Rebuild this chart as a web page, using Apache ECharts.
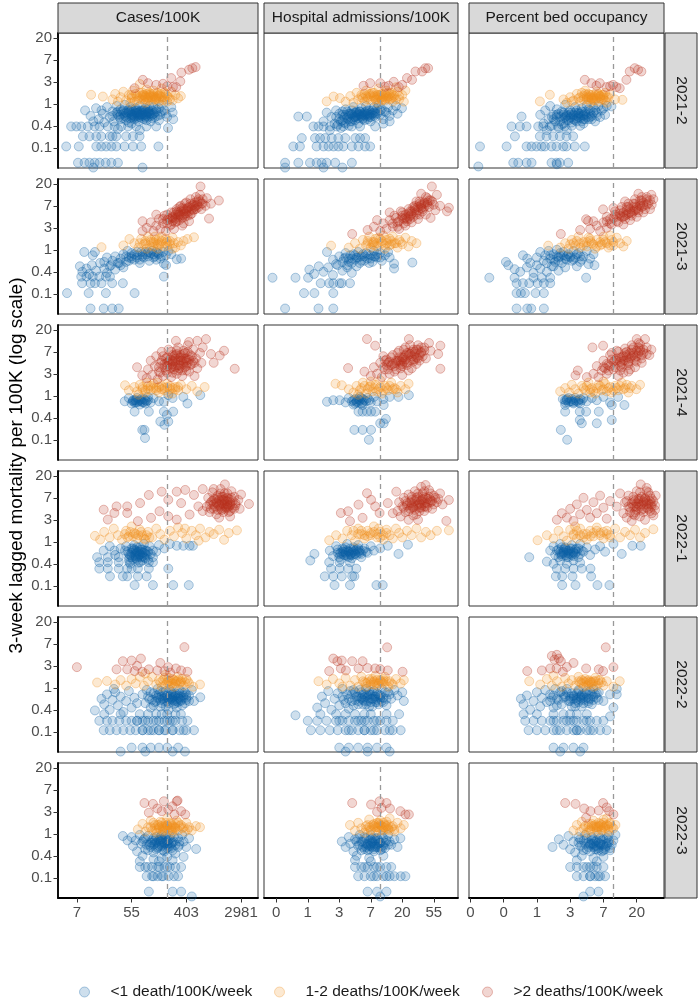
<!DOCTYPE html>
<html><head><meta charset="utf-8">
<script src="https://cdn.jsdelivr.net/npm/echarts@6/dist/echarts.min.js"></script>
<style>html,body{margin:0;padding:0;background:#fff}#c{width:698px;height:999px}</style>
</head><body><div id="c"></div>
<script>
// ---- labels ----
const categories = ['<1 death/100K/week', '1-2 deaths/100K/week', '>2 deaths/100K/week'];
const measures = ['Cases/100K', 'Hospital admissions/100K', 'Percent bed occupancy'];
const periods = ['2021-2', '2021-3', '2021-4', '2022-1', '2022-2', '2022-3'];
// axis ticks are natural-log positions; labels are the back-transformed values
const xTickValues = [[2, 4, 6, 8], [-1, 0, 1, 2, 3, 4], [-2, -1, 0, 1, 2, 3]];
const xTickLabels = [['7', '55', '403', '2981'], ['0', '1', '3', '7', '20', '55'], ['0', '0', '1', '3', '7', '20']];
const yTickValues = [-2, -1, 0, 1, 2, 3];
const yTickLabels = ['0.1', '0.4', '1', '3', '7', '20'];
const thresholdsRaw = [200, 10, 10];   // dashed reference lines (raw units)
const xRanges = [[1.31, 8.62], [-1.39, 4.77], [-2.04, 3.82]];
const yRange = [-2.92, 3.22];

// ---- data: flat [ln(x), ln(y), ...] pairs ----
const cases_2021_2_lo = [1.61,-1.94,2.07,-1.94,2.71,-1.94,2.89,-1.94,3.07,-1.94,3.26,-1.94,3.44,-1.94,3.74,-1.94,4.05,-1.94,4.35,-1.94,4.98,-1.94,
2.04,-2.68,2.28,-2.68,2.46,-2.68,2.65,-2.68,2.83,-2.68,3.05,-2.68,3.26,-2.68,3.5,-2.68,2.6,-2.9,4.4,-2.9,
2.22,-1.48,2.46,-1.48,2.71,-1.48,2.89,-1.48,3.2,-1.48,3.44,-1.48,3.8,-1.48,4.05,-1.48,4.29,-1.48,3.3,-1.48,
1.79,-1.03,1.98,-1.03,2.16,-1.03,2.4,-1.03,2.65,-1.03,2.83,-1.03,3.13,-1.03,3.38,-1.03,3.62,-1.03,3.87,-1.03,4.17,-1.03,4.54,-1.03,4.9,-1.03,5.33,-1.1,3.5,-1.15,4.3,-1.2,
2.3,-0.3,2.5,-0.55,2.7,-0.2,2.8,-0.7,2.95,-0.45,3.0,-0.85,3.1,-0.15,3.2,-0.6,3.3,-0.35,3.35,-0.8,3.45,-0.1,3.5,-0.5,3.6,-0.25,3.6,-0.7,3.7,-0.45,3.75,-0.05,3.8,-0.6,3.85,-0.3,3.9,-0.85,3.95,-0.15,4.0,-0.5,4.05,-0.35,4.1,-0.7,4.15,-0.2,4.2,-0.55,4.25,-0.4,4.3,-0.1,4.35,-0.65,4.4,-0.3,4.45,-0.5,4.5,-0.2,4.55,-0.75,4.6,-0.4,4.65,-0.1,4.7,-0.55,4.75,-0.3,4.8,-0.15,4.85,-0.6,4.9,-0.35,5.0,-0.2,5.05,-0.5,5.1,-0.05,5.2,-0.3,5.3,-0.6,5.45,-0.15,5.5,-0.4,5.52,-0.7,3.9,-0.4,4.1,-0.45,4.3,-0.35,4.0,-0.25,4.2,-0.3,3.7,-0.3,4.4,-0.45,4.6,-0.25,3.5,-0.35,3.8,-0.75,4.0,-0.9,4.25,-0.8,4.5,-0.6,4.7,-0.8,3.3,-0.55,3.6,-0.5,4.8,-0.45,5.0,-0.75,2.9,-0.3,2.6,-0.8,
3.45,-0.4,3.55,-0.6,3.65,-0.35,3.75,-0.55,3.85,-0.45,3.95,-0.65,4.05,-0.5,4.15,-0.4,4.25,-0.6,4.35,-0.3,4.45,-0.7,4.55,-0.45,4.65,-0.35,4.75,-0.65,4.85,-0.4,4.95,-0.55,3.7,-0.65,3.9,-0.3,4.1,-0.6,4.3,-0.5,4.5,-0.35,4.7,-0.45,4.9,-0.25,4.2,-0.45,4.0,-0.6,4.4,-0.55,3.8,-0.4,4.6,-0.6,5.1,-0.35,5.25,-0.45,
4.0,-0.45,4.1,-0.55,4.2,-0.4,4.3,-0.6,4.4,-0.4,4.5,-0.5,4.6,-0.35,4.15,-0.3,4.35,-0.5,4.55,-0.55,3.95,-0.35,4.25,-0.5,4.45,-0.3,4.65,-0.45,4.05,-0.65,4.75,-0.5];
const cases_2021_2_mid = [2.52,0.41,2.95,0.33,3.3,0.2,3.4,0.45,3.5,0.1,3.6,0.3,3.7,0.55,3.8,0.15,3.9,0.4,4.0,0.25,4.05,0.6,4.1,0.1,4.2,0.35,4.3,0.9,4.3,0.5,4.35,0.2,4.45,0.4,4.5,0.05,4.55,0.65,4.6,0.3,4.7,0.45,4.75,0.15,4.8,0.6,4.85,0.3,4.95,0.5,5.0,0.1,5.05,0.35,5.1,0.7,5.2,0.2,5.25,0.45,5.35,0.3,5.45,0.55,5.5,0.15,5.6,0.4,5.7,0.25,5.8,0.35,4.0,0.4,4.4,0.3,4.9,0.25,4.65,0.5,4.2,0.15,5.3,0.1,3.95,0.05,
4.0,0.3,4.15,0.45,4.25,0.25,4.4,0.5,4.5,0.3,4.6,0.15,4.7,0.35,4.8,0.45,4.9,0.2,5.0,0.4,5.1,0.3,5.2,0.5,5.3,0.35,5.4,0.2,4.35,0.35,4.55,0.45,4.75,0.3,4.95,0.35,5.15,0.15,4.45,0.2,
4.5,0.35,4.6,0.25,4.7,0.3,4.8,0.35,4.9,0.3,5.0,0.25,4.65,0.4,4.85,0.2,5.05,0.45,4.4,0.4,5.2,0.3,4.55,0.2];
const cases_2021_2_hi = [4.41,1.09,4.6,0.94,4.9,0.86,5.15,0.91,5.45,1.17,5.51,0.76,5.63,0.76,5.78,1.02,5.82,1.42,6.1,1.55,6.22,1.62,6.34,1.67,4.11,0.71,5.3,0.8];

const hosp_2021_2_lo = [-0.72,-2.68,-0.3,-2.68,0.07,-2.68,0.28,-2.68,0.44,-2.68,0.6,-2.68,0.87,-2.68,1.4,-2.68,-0.72,-2.9,0.5,-2.9,1.1,-2.9,
-0.46,-1.94,-0.25,-1.94,0.28,-1.94,0.5,-1.94,0.66,-1.94,0.82,-1.94,0.97,-1.94,1.13,-1.94,1.4,-1.94,1.61,-1.94,1.82,-1.94,1.98,-1.94,
-0.19,-1.56,0.23,-1.56,0.39,-1.56,0.55,-1.56,0.76,-1.56,0.97,-1.56,1.19,-1.56,1.51,-1.56,1.66,-1.56,1.82,-1.56,
0.18,-1.03,0.34,-1.03,0.5,-1.03,0.71,-1.03,0.92,-1.03,1.13,-1.03,1.4,-1.03,1.66,-1.03,2.14,-1.03,-0.3,-0.58,-0.03,-0.58,
0.5,-0.8,0.6,-0.4,0.7,-1.2,0.75,-0.6,0.85,-0.9,0.9,-0.3,1.0,-0.7,1.05,-1.1,1.1,-0.5,1.15,-0.85,1.2,-0.25,1.25,-0.65,1.3,-1.0,1.35,-0.45,1.4,-0.8,1.45,-0.15,1.5,-0.6,1.55,-0.35,1.6,-0.9,1.65,-0.5,1.7,-0.2,1.75,-0.7,1.8,-0.4,1.85,-0.1,1.9,-0.55,1.95,-0.3,2.0,-0.8,2.05,-0.45,2.1,-0.15,2.15,-0.6,2.2,-0.35,2.25,-0.05,2.3,-0.5,2.35,-0.25,2.4,-0.7,2.5,-0.4,2.55,-0.15,2.6,-0.55,2.7,-0.3,2.8,-0.1,2.85,-0.45,2.99,-0.2,1.3,-0.55,1.5,-0.4,1.7,-0.45,1.9,-0.3,1.2,-0.9,1.6,-0.65,2.0,-0.6,1.4,-0.3,1.8,-0.75,2.2,-0.2,1.1,-0.35,0.95,-0.95,2.4,-0.9,2.6,-0.8,
0.9,-0.6,1.0,-0.45,1.1,-0.75,1.2,-0.5,1.3,-0.7,1.4,-0.45,1.5,-0.75,1.6,-0.5,1.7,-0.6,1.8,-0.55,1.9,-0.7,2.0,-0.4,2.1,-0.55,2.2,-0.45,2.3,-0.3,1.25,-0.35,1.45,-0.6,1.65,-0.35,1.85,-0.45,2.05,-0.3,1.35,-0.8,1.55,-0.55,1.75,-0.5,1.95,-0.5,1.15,-0.6,2.15,-0.45,2.45,-0.35,1.05,-0.8,
1.4,-0.5,1.5,-0.6,1.6,-0.45,1.7,-0.55,1.8,-0.5,1.9,-0.45,2.0,-0.5,1.55,-0.4,1.75,-0.65,1.95,-0.6,1.65,-0.35,1.85,-0.35,1.45,-0.7,2.1,-0.4,1.3,-0.45];
const hosp_2021_2_mid = [0.6,0.11,0.82,0.33,1.02,0.26,1.2,0.1,1.35,0.35,1.45,0.05,1.55,0.5,1.6,0.2,1.7,0.4,1.8,0.1,1.85,0.6,1.9,0.3,2.0,0.15,2.05,0.5,2.1,0.35,2.2,0.05,2.25,0.7,2.3,0.25,2.35,0.45,2.45,0.15,2.5,0.6,2.55,0.3,2.65,0.5,2.7,0.1,2.75,0.35,2.85,0.55,2.9,0.2,3.0,0.4,3.05,0.1,1.95,0.45,2.4,0.35,2.6,0.2,2.15,0.2,1.75,0.25,2.8,0.75,3.1,0.6,
1.7,0.3,1.8,0.45,1.9,0.2,2.0,0.35,2.1,0.5,2.2,0.3,2.3,0.4,2.4,0.2,2.5,0.35,2.6,0.45,2.7,0.3,2.8,0.2,2.9,0.35,2.0,0.45,2.35,0.15,2.55,0.5,2.25,0.4,1.85,0.35,
2.1,0.3,2.2,0.4,2.3,0.3,2.4,0.3,2.5,0.25,2.6,0.35,2.7,0.4,2.2,0.2,2.45,0.45,2.35,0.2,2.65,0.25];
const hosp_2021_2_hi = [1.77,0.82,1.98,0.94,2.3,0.94,2.57,0.82,2.73,1.0,2.89,0.76,3.0,0.86,3.15,1.17,3.31,1.09,3.42,1.47,3.63,1.47,3.73,1.62,3.82,1.62,2.45,0.78];

const beds_2021_2_lo = [-0.71,-2.68,-0.56,-2.68,-0.31,-2.68,-0.16,-2.68,0.44,-2.68,0.59,-2.68,0.69,-2.68,0.94,-2.68,0.6,-2.75,-1.76,-2.85,
-1.71,-1.94,-0.91,-1.94,-0.31,-1.94,-0.16,-1.94,-0.01,-1.94,0.14,-1.94,0.24,-1.94,0.44,-1.94,0.59,-1.94,0.79,-1.94,0.89,-1.94,1.14,-1.94,1.44,-1.94,
-0.66,-1.48,0.09,-1.48,0.29,-1.48,0.49,-1.48,0.69,-1.48,0.89,-1.48,1.09,-1.48,
-0.76,-1.03,-0.51,-1.03,-0.31,-1.03,0.04,-1.03,0.19,-1.03,0.39,-1.03,0.64,-1.03,0.84,-1.03,-0.46,-0.58,
0.1,-0.5,0.2,-0.9,0.25,-0.3,0.3,-1.2,0.35,-0.7,0.4,-0.1,0.45,-1.0,0.5,-0.5,0.55,-0.8,0.6,-0.25,0.65,-1.1,0.7,-0.6,0.75,-0.35,0.8,-0.9,0.85,-0.05,0.9,-0.5,0.95,-0.75,1.0,-0.3,1.05,-1.0,1.1,-0.55,1.15,-0.15,1.2,-0.8,1.25,-0.4,1.3,-0.65,1.35,-0.2,1.4,-0.9,1.45,-0.45,1.5,-0.05,1.55,-0.7,1.6,-0.3,1.65,-0.55,1.7,-0.15,1.75,-0.8,1.8,-0.4,1.85,-0.1,1.9,-0.6,1.95,-0.3,2.0,-0.2,2.05,-0.5,2.1,-0.1,2.24,-0.12,0.9,-1.2,0.6,-0.5,1.0,-0.65,1.2,-0.3,1.4,-0.55,0.8,-0.4,1.3,-1.0,0.45,-0.6,
0.5,-0.7,0.6,-0.6,0.7,-0.8,0.8,-0.65,0.9,-0.75,1.0,-0.5,1.1,-0.7,1.2,-0.55,1.3,-0.45,1.4,-0.7,1.5,-0.5,1.6,-0.6,1.7,-0.4,1.8,-0.55,0.65,-0.45,0.85,-0.6,1.05,-0.85,1.25,-0.6,1.45,-0.35,1.65,-0.7,0.95,-0.4,1.15,-0.4,1.35,-0.8,1.55,-0.25,0.75,-0.95,1.75,-0.3,
0.9,-0.55,1.0,-0.6,1.1,-0.5,1.2,-0.65,1.3,-0.55,1.4,-0.5,1.5,-0.6,1.05,-0.4,1.25,-0.45,1.45,-0.7,1.15,-0.75,1.35,-0.35,1.6,-0.45,0.8,-0.5];
const beds_2021_2_mid = [0.09,0.11,0.39,0.41,0.8,0.2,0.9,0.05,1.0,0.3,1.1,0.15,1.2,0.45,1.3,0.1,1.4,0.35,1.45,0.6,1.5,0.2,1.6,0.05,1.65,0.4,1.7,0.25,1.8,0.55,1.85,0.1,1.9,0.35,2.0,0.2,2.05,0.5,2.1,0.05,2.15,0.3,1.25,0.25,1.55,0.45,1.75,0.15,1.95,0.4,1.35,0.5,2.2,0.45,2.57,0.18,2.35,0.2,1.05,0.1,
1.3,0.3,1.4,0.2,1.5,0.4,1.6,0.3,1.7,0.15,1.8,0.35,1.9,0.25,2.0,0.4,2.1,0.3,1.45,0.45,1.65,0.25,1.85,0.45,2.05,0.15,1.55,0.3,1.75,0.4,
1.5,0.3,1.6,0.4,1.7,0.3,1.8,0.25,1.9,0.35,2.0,0.3,1.65,0.2,1.85,0.4,1.55,0.2,1.95,0.2];
const beds_2021_2_hi = [1.44,1.09,1.64,0.94,1.79,0.82,1.89,0.94,2.09,0.76,2.29,0.86,2.39,0.76,2.49,0.71,2.69,1.09,2.79,1.47,2.94,1.62,3.04,1.55,3.14,1.47,2.2,0.8];

const cases_2021_3_lo = [2.5,-2.67,2.98,-2.67,3.29,-2.67,3.53,-2.67,1.64,-1.97,2.43,-1.97,3.06,-1.97,4.11,-1.97,
2.19,-1.52,2.5,-1.52,2.66,-1.52,2.9,-1.52,3.29,-1.52,3.68,-1.52,2.16,-1.22,2.35,-1.22,2.58,-1.22,2.82,-1.22,3.06,-1.22,3.21,-1.22,5.18,-1.22,
2.11,-0.75,2.2,-1.0,2.35,-0.85,2.45,-1.1,2.55,-0.7,2.7,-0.95,2.85,-0.6,3.0,-0.85,3.1,-1.05,3.25,-0.7,3.4,-0.9,3.55,-0.6,3.7,-0.8,
2.27,-0.1,2.66,-0.1,2.58,-0.25,5.18,-0.63,5.26,-0.7,5.65,-0.43,5.81,-0.4,
3.0,-0.55,3.1,-0.35,3.2,-0.75,3.3,-0.5,3.4,-0.3,3.5,-0.6,3.6,-0.4,3.7,-0.2,3.8,-0.55,3.9,-0.35,4.0,-0.15,4.1,-0.45,4.2,-0.25,4.3,-0.6,4.35,-0.1,4.45,-0.35,4.55,-0.2,4.65,-0.5,4.75,-0.05,4.85,-0.3,4.95,-0.15,5.05,-0.4,5.15,-0.1,5.25,-0.25,5.35,-0.05,4.0,-0.4,4.4,-0.3,4.6,-0.1,4.8,-0.2,3.6,-0.7,4.2,-0.1,4.9,-0.45,3.85,-0.05,5.45,-0.2,
3.8,-0.3,4.0,-0.3,4.2,-0.35,4.4,-0.2,4.6,-0.3,4.8,-0.35,5.0,-0.2,4.3,-0.45,4.5,-0.1,4.1,-0.2,4.7,-0.15,3.9,-0.5,4.9,-0.1,5.1,-0.3];
const cases_2021_3_mid = [2.9,0.12,3.92,0.49,6.04,0.49,6.28,0.57,3.7,0.2,4.1,0.3,4.25,0.1,4.35,0.5,4.45,0.25,4.55,0.05,4.6,0.6,4.7,0.35,4.8,0.15,4.9,0.45,4.95,0.05,5.05,0.3,5.1,0.6,5.2,0.15,5.3,0.4,5.4,0.25,5.5,0.55,5.6,0.1,5.7,0.35,5.8,0.2,4.5,0.4,5.0,0.2,4.85,0.6,5.25,0.5,5.5,0.05,4.3,0.3,5.9,0.4,
4.5,0.3,4.65,0.2,4.8,0.35,4.95,0.25,5.1,0.4,5.25,0.3,5.4,0.4,5.55,0.3,4.7,0.45,5.0,0.5,5.3,0.2,4.85,0.3];
const cases_2021_3_hi = [4.55,1.0,4.7,1.25,4.8,0.85,4.9,1.1,5.0,1.4,5.05,0.95,5.15,1.2,5.2,1.55,5.25,0.85,5.3,1.35,5.4,1.1,5.45,1.7,5.5,1.45,5.55,0.95,5.6,1.25,5.65,1.85,5.7,1.6,5.75,1.35,5.8,2.0,5.85,1.1,5.9,1.75,5.95,1.5,6.0,2.15,6.05,1.9,6.1,1.3,6.15,2.3,6.2,1.65,6.25,2.05,6.3,1.85,6.35,2.4,6.4,2.2,6.45,1.95,6.5,2.5,6.55,2.1,6.6,2.3,6.7,2.0,6.75,2.35,6.83,1.42,7.19,2.24,6.52,2.88,6.9,2.1,5.6,1.45,5.9,1.2,6.0,1.65,5.3,1.6,4.9,1.6,4.4,0.85,4.4,1.3,
5.3,1.2,5.4,1.4,5.5,1.3,5.6,1.6,5.7,1.5,5.8,1.75,5.9,1.6,6.0,1.85,6.1,1.75,6.2,2.0,6.3,1.95,6.4,2.05,6.5,2.2,6.6,2.1,5.45,1.15,5.65,1.3,5.85,1.45,6.05,1.55,6.25,1.8,6.45,2.3,5.75,1.95,5.95,2.1,6.15,1.6,6.35,1.85,5.55,1.7,6.55,1.85,5.35,1.45,5.15,1.4,
5.5,1.5,5.6,1.4,5.7,1.7,5.8,1.55,5.9,1.85,6.0,1.75,6.1,1.95,6.2,1.85,6.3,2.15,5.75,1.6,5.95,1.65,6.15,2.1,6.35,2.0,5.65,1.75,5.85,1.9];

const hosp_2021_3_lo = [-0.72,-2.67,0.34,-2.67,0.81,-2.67,-0.12,-1.97,0.21,-1.97,0.81,-1.97,
0.41,-1.52,0.68,-1.52,0.81,-1.52,1.01,-1.52,1.08,-1.52,1.34,-1.52,-1.12,-1.27,-0.39,-1.27,0.01,-1.27,
0.05,-0.9,0.2,-1.1,0.35,-0.75,0.5,-1.0,0.65,-0.8,0.8,-1.15,0.95,-0.7,1.1,-0.95,1.25,-0.8,1.4,-1.05,1.55,-0.75,
0.61,-0.1,2.74,-0.63,2.74,-0.85,3.32,-0.58,
0.8,-0.45,0.9,-0.65,1.0,-0.3,1.1,-0.55,1.2,-0.15,1.25,-0.7,1.3,-0.4,1.4,-0.6,1.45,-0.2,1.5,-0.45,1.6,-0.1,1.65,-0.6,1.7,-0.3,1.8,-0.5,1.85,-0.15,1.9,-0.4,2.0,-0.25,2.05,-0.55,2.1,-0.05,2.2,-0.35,2.3,-0.15,2.35,-0.5,2.45,-0.25,2.55,-0.1,1.55,-0.35,1.75,-0.2,1.35,-0.25,1.95,-0.6,2.15,-0.3,1.15,-0.4,2.6,-0.35,
1.2,-0.35,1.4,-0.4,1.6,-0.35,1.8,-0.3,2.0,-0.4,2.2,-0.2,1.5,-0.25,1.7,-0.5,1.9,-0.2,2.1,-0.3,1.3,-0.55,2.3,-0.35];
const hosp_2021_3_mid = [0.74,0.19,1.3,0.1,1.5,0.3,1.65,0.05,1.75,0.45,1.85,0.2,1.95,0.6,2.0,0.1,2.1,0.35,2.2,0.15,2.25,0.55,2.35,0.3,2.45,0.05,2.5,0.45,2.6,0.2,2.7,0.6,2.75,0.3,2.85,0.1,2.9,0.45,3.0,0.25,3.1,0.55,3.2,0.15,3.3,0.4,2.4,0.65,2.15,0.5,2.65,0.4,2.05,0.25,3.45,0.3,1.9,0.4,
1.9,0.3,2.05,0.35,2.2,0.3,2.35,0.4,2.5,0.3,2.65,0.25,2.8,0.3,2.95,0.35,2.1,0.2,2.45,0.2,2.3,0.5,2.6,0.5];
const hosp_2021_3_hi = [1.41,0.72,1.9,0.9,2.1,1.05,2.3,0.85,2.4,1.2,2.5,0.95,2.6,1.35,2.7,1.05,2.75,1.55,2.85,1.25,2.9,0.95,3.0,1.7,3.05,1.4,3.1,1.1,3.2,1.85,3.25,1.55,3.3,1.25,3.4,2.0,3.45,1.7,3.5,1.4,3.55,2.2,3.6,1.9,3.7,2.1,3.75,1.6,3.8,2.35,3.85,1.95,3.94,2.88,3.95,2.2,4.05,1.8,4.1,2.5,4.2,2.0,4.48,1.91,4.42,1.75,3.6,2.55,2.6,1.7,2.2,1.35,3.9,1.45,3.35,1.5,
2.7,1.2,2.8,1.45,2.9,1.3,3.0,1.55,3.1,1.45,3.2,1.65,3.3,1.75,3.4,1.8,3.5,1.95,3.6,2.05,3.7,1.95,3.8,2.15,3.9,2.25,4.0,2.05,2.95,1.75,3.15,1.3,3.35,1.95,3.55,1.6,3.75,2.4,3.45,2.2,3.25,1.4,3.65,1.75,2.85,1.05,3.05,1.2,
3.0,1.45,3.1,1.6,3.2,1.5,3.3,1.65,3.4,1.9,3.5,1.8,3.6,2.0,3.7,2.15,3.8,2.05,3.25,1.75,3.45,1.6,3.65,1.85,3.85,2.25,3.15,1.4,3.55,2.1];

const beds_2021_3_lo = [-0.61,-2.67,-0.29,-2.67,-0.17,-2.67,0.21,-2.67,-0.61,-1.97,-0.48,-1.97,-0.36,-1.97,-0.04,-1.97,0.21,-1.97,
-0.61,-1.52,-0.42,-1.52,-0.23,-1.52,0.02,-1.52,0.21,-1.52,0.4,-1.52,-1.43,-1.27,-0.67,-1.27,-0.1,-1.27,0.15,-1.27,0.4,-1.27,1.48,-1.27,
-0.93,-0.55,-0.86,-0.7,-0.67,-0.88,-0.42,-0.25,-0.29,-0.4,
-0.5,-1.0,-0.3,-0.8,-0.1,-1.05,0.1,-0.85,0.3,-1.0,0.5,-0.75,0.65,-0.95,-0.2,-0.6,0.0,-0.7,
0.0,-0.35,0.1,-0.1,0.2,-0.5,0.25,-0.25,0.35,-0.05,0.4,-0.4,0.5,-0.2,0.55,-0.55,0.6,0.0,0.7,-0.3,0.75,-0.6,0.8,-0.1,0.9,-0.45,0.95,-0.2,1.05,-0.5,1.1,-0.05,1.15,-0.35,1.25,-0.15,1.3,-0.55,1.4,-0.3,1.5,-0.05,1.6,-0.4,1.7,-0.2,0.45,-0.75,0.85,-0.8,1.2,-0.75,0.3,-0.6,0.65,-0.35,1.0,-0.3,1.35,-0.45,1.55,-0.65,1.73,-0.7,
0.4,-0.25,0.6,-0.3,0.8,-0.25,1.0,-0.35,1.2,-0.2,0.5,-0.45,0.7,-0.15,0.9,-0.3,1.1,-0.45,1.3,-0.3,0.65,-0.5,0.85,-0.4];
const beds_2021_3_mid = [0.34,0.19,0.7,0.1,0.85,0.3,0.95,0.05,1.05,0.45,1.15,0.2,1.25,0.6,1.3,0.1,1.4,0.35,1.5,0.15,1.55,0.55,1.65,0.3,1.75,0.05,1.8,0.45,1.9,0.2,2.0,0.6,2.05,0.35,2.15,0.1,2.25,0.45,2.3,0.2,2.4,0.55,2.5,0.3,2.6,0.15,1.2,0.4,1.6,0.4,1.95,0.25,2.2,0.65,1.0,0.25,2.7,0.4,
1.1,0.3,1.3,0.3,1.5,0.35,1.7,0.25,1.9,0.35,2.1,0.3,2.3,0.35,1.4,0.2,1.8,0.15,2.0,0.45,1.6,0.5,2.2,0.2];
const beds_2021_3_hi = [0.72,0.72,1.48,1.39,1.54,1.31,1.99,1.84,1.3,0.9,1.6,0.95,1.8,1.1,1.9,0.85,2.0,1.25,2.1,1.0,2.2,1.4,2.25,1.15,2.35,1.6,2.4,1.3,2.5,1.8,2.55,1.5,2.6,1.15,2.7,1.95,2.75,1.65,2.8,1.35,2.9,2.1,2.95,1.8,3.0,1.5,3.1,2.25,3.15,1.95,3.2,1.7,3.3,2.4,3.35,2.1,3.4,1.85,3.44,2.5,3.5,2.3,3.45,2.05,2.65,2.2,2.3,1.9,3.05,2.55,2.1,1.5,1.7,1.3,
2.1,1.3,2.2,1.2,2.3,1.45,2.4,1.5,2.5,1.55,2.6,1.7,2.7,1.6,2.8,1.85,2.9,1.75,3.0,1.95,3.1,2.0,3.2,2.15,3.3,2.05,3.4,2.25,2.45,1.25,2.65,1.4,2.85,1.55,3.05,1.7,3.25,1.85,2.55,1.95,2.75,2.1,2.95,2.3,3.15,2.4,2.35,1.75,
2.5,1.65,2.6,1.5,2.7,1.8,2.8,1.7,2.9,1.95,3.0,1.85,3.1,2.1,3.2,2.0,3.3,2.3,2.75,1.95,2.95,2.1,3.15,2.25,2.65,1.55,2.85,1.65,3.05,1.8];

const cases_2021_4_lo = [4.39,-1.55,4.47,-1.55,4.49,-1.92,5.05,-1.17,5.34,-1.17,5.2,-1.32,4.11,-0.72,4.63,-0.72,5.18,-0.72,5.52,-0.72,5.29,-0.87,5.18,-0.27,
3.75,-0.25,3.9,-0.1,4.0,-0.35,4.05,-0.2,4.15,-0.3,4.2,-0.1,4.3,-0.4,4.35,-0.25,4.45,-0.15,4.5,-0.35,4.6,-0.2,4.7,-0.3,4.8,-0.1,4.2,-0.3,4.4,-0.3,4.1,-0.2,4.6,-0.05,5.34,0.03,5.89,-0.05,6.51,0.03,6.04,-0.35,5.0,-0.25,5.5,-0.1,
4.05,-0.25,4.15,-0.2,4.25,-0.25,4.35,-0.15,4.45,-0.3,4.55,-0.25,4.1,-0.3,4.3,-0.2,4.5,-0.2];
const cases_2021_4_mid = [3.76,0.48,6.67,0.4,3.9,0.25,4.1,0.4,4.2,0.2,4.3,0.5,4.4,0.3,4.5,0.15,4.6,0.45,4.7,0.25,4.8,0.55,4.9,0.35,5.0,0.15,5.1,0.45,5.2,0.25,5.3,0.55,5.4,0.3,5.5,0.1,5.6,0.4,5.7,0.25,5.8,0.5,6.0,0.3,6.2,0.45,4.55,0.6,4.95,0.6,5.35,0.1,4.25,0.05,6.4,0.2,
4.4,0.4,4.6,0.3,4.8,0.35,5.0,0.4,5.2,0.35,5.4,0.45,5.6,0.3,4.5,0.25,4.7,0.45,4.9,0.25,5.1,0.3,5.3,0.4,5.5,0.35,5.7,0.4];
const cases_2021_4_hi = [4.2,1.3,4.39,0.93,4.55,0.8,4.6,1.2,4.7,1.6,4.75,0.95,4.85,1.35,4.9,1.8,4.95,0.75,5.0,1.1,5.05,1.5,5.1,2.0,5.15,0.9,5.2,1.3,5.25,1.7,5.3,1.05,5.35,2.1,5.4,1.45,5.45,0.85,5.5,1.85,5.55,1.2,5.6,1.6,5.62,2.5,5.65,1.0,5.7,2.2,5.75,1.4,5.8,1.75,5.85,0.9,5.9,2.05,5.95,1.3,6.0,1.6,6.05,2.3,6.1,1.1,6.15,1.85,6.2,1.45,6.25,2.1,6.3,0.9,6.35,1.7,6.4,1.25,6.5,1.95,6.55,1.5,6.6,2.2,6.72,2.58,6.1,2.45,6.4,2.5,7.38,2.05,7.77,1.23,7.22,1.83,6.9,1.9,7.0,1.5,5.3,1.35,5.5,1.55,5.7,1.15,5.9,1.55,5.6,1.3,
5.0,1.3,5.1,1.6,5.2,1.45,5.3,1.75,5.4,1.25,5.5,1.6,5.6,1.85,5.7,1.4,5.8,1.6,5.9,1.9,6.0,1.35,6.1,1.65,6.2,1.8,6.3,1.5,5.35,1.55,5.55,1.35,5.75,1.75,5.95,1.7,6.15,1.4,5.25,1.15,5.45,2.0,5.65,2.05,5.85,1.15,6.05,2.0,5.15,1.8,6.25,1.6,5.05,1.05,5.5,1.05,5.8,1.35,6.0,1.15,
5.3,1.5,5.4,1.65,5.5,1.45,5.6,1.7,5.7,1.6,5.8,1.85,5.9,1.45,6.0,1.7,5.45,1.3,5.65,1.9,5.85,1.6,6.05,1.5,5.55,1.8,5.75,1.25,5.95,1.95];

const hosp_2021_4_lo = [1.48,-1.55,1.74,-1.55,2.01,-1.55,1.94,-2.0,2.3,-1.25,2.41,-1.25,2.48,-1.05,1.61,-0.72,1.74,-0.72,1.88,-0.72,2.01,-0.72,2.14,-0.72,1.74,-0.42,2.41,-0.42,
0.61,-0.27,0.81,-0.2,1.01,-0.2,1.2,-0.3,1.3,-0.1,1.4,-0.25,1.45,-0.4,1.5,-0.15,1.6,-0.3,1.65,-0.05,1.7,-0.35,1.8,-0.2,1.9,-0.1,2.0,-0.3,2.1,-0.05,2.2,-0.25,2.4,-0.15,2.6,-0.05,2.88,-0.05,3.21,0.03,1.55,-0.25,1.75,-0.15,
1.45,-0.2,1.55,-0.3,1.65,-0.2,1.75,-0.3,1.85,-0.25,1.95,-0.2,1.5,-0.35,1.7,-0.1,1.6,-0.15];
const hosp_2021_4_mid = [0.88,0.55,1.08,0.48,1.3,0.3,1.45,0.15,1.55,0.45,1.65,0.25,1.75,0.6,1.85,0.1,1.95,0.4,2.05,0.2,2.15,0.5,2.25,0.3,2.35,0.1,2.45,0.45,2.55,0.25,2.65,0.6,2.75,0.35,2.85,0.15,2.95,0.45,3.1,0.3,3.2,0.55,2.0,0.65,1.6,0.05,2.3,0.7,
1.7,0.35,1.9,0.3,2.1,0.35,2.3,0.4,2.5,0.35,2.7,0.3,1.8,0.45,2.0,0.45,2.2,0.2,2.4,0.25,2.6,0.45,2.8,0.3];
const hosp_2021_4_hi = [1.28,1.26,1.88,2.58,2.14,2.28,3.21,2.58,4.21,2.28,4.14,1.9,4.21,1.23,1.8,1.1,2.0,0.9,2.1,1.3,2.2,1.0,2.3,1.5,2.35,0.85,2.45,1.2,2.5,1.65,2.6,1.0,2.65,1.4,2.7,1.85,2.8,1.2,2.85,1.6,2.9,2.05,3.0,1.35,3.05,1.75,3.1,2.2,3.15,1.5,3.25,1.9,3.3,1.25,3.35,2.1,3.4,1.65,3.5,2.3,3.55,1.85,3.6,2.0,3.7,2.2,3.75,1.7,3.85,2.4,3.9,2.05,3.0,0.95,2.4,1.8,2.75,1.1,3.2,1.15,2.55,1.5,3.45,1.45,2.95,1.55,
2.4,1.3,2.5,1.4,2.6,1.55,2.7,1.45,2.8,1.6,2.9,1.75,3.0,1.65,3.1,1.85,3.2,1.95,3.3,1.8,3.4,2.0,3.5,2.1,3.6,2.2,3.7,2.05,2.55,1.2,2.75,1.35,2.95,1.25,3.15,1.4,3.35,1.55,3.55,1.6,2.65,1.75,2.85,1.95,3.05,2.1,3.25,2.3,3.45,1.75,3.65,1.8,2.45,1.6,3.0,1.45,
2.8,1.5,2.9,1.6,3.0,1.75,3.1,1.65,3.2,1.85,3.3,2.0,3.4,1.9,3.5,1.7,2.95,1.4,3.15,1.95,3.35,1.65,3.45,2.1,3.05,1.55,3.25,1.6,3.6,1.95];

const beds_2021_4_lo = [0.72,-1.55,0.91,-2.0,1.35,-1.25,1.8,-1.25,1.29,-1.1,2.25,-1.1,0.85,-0.72,1.29,-0.72,1.48,-0.72,1.86,-0.72,0.85,-0.42,2.25,-0.42,2.63,-0.42,
0.78,-0.15,0.85,-0.3,0.95,-0.1,1.0,-0.25,1.1,-0.35,1.15,-0.1,1.25,-0.2,1.3,-0.35,1.4,-0.1,1.5,-0.25,1.65,-0.1,1.8,-0.2,2.0,-0.05,2.2,-0.3,2.44,-0.05,0.9,-0.2,1.2,-0.25,1.05,-0.15,
0.85,-0.2,0.95,-0.3,1.05,-0.25,1.15,-0.2,1.25,-0.3,1.35,-0.2,0.9,-0.15,1.1,-0.3,1.3,-0.15];
const beds_2021_4_mid = [0.7,0.2,0.85,0.35,0.97,0.15,1.05,0.5,1.15,0.3,1.25,0.1,1.35,0.45,1.45,0.25,1.55,0.6,1.65,0.35,1.75,0.1,1.85,0.5,1.95,0.25,2.05,0.55,2.15,0.35,2.25,0.15,2.35,0.45,2.45,0.25,2.55,0.6,2.65,0.35,2.75,0.15,2.85,0.45,2.99,0.3,3.1,0.5,1.6,0.15,2.0,0.65,
1.4,0.35,1.6,0.3,1.8,0.35,2.0,0.3,2.2,0.4,2.4,0.35,2.6,0.3,2.8,0.35,1.5,0.45,1.7,0.2,1.9,0.45,2.1,0.2,2.3,0.25,2.5,0.45,2.7,0.5];
const beds_2021_4_hi = [1.23,1.15,1.16,0.93,1.67,2.2,1.99,2.28,3.0,2.58,3.25,2.58,3.44,2.1,3.38,1.85,1.5,0.85,1.7,1.0,1.8,1.35,1.85,0.85,1.95,1.15,2.0,1.6,2.1,1.0,2.15,1.4,2.2,1.85,2.3,1.2,2.35,1.6,2.4,2.05,2.5,1.35,2.55,1.75,2.6,1.05,2.7,2.0,2.75,1.5,2.8,1.2,2.85,1.8,2.9,2.2,3.0,1.55,3.05,1.95,3.1,2.35,3.15,1.7,3.2,2.1,3.3,1.9,2.45,0.9,2.25,1.65,2.65,1.6,2.95,1.3,2.05,1.25,
2.0,1.3,2.1,1.45,2.2,1.35,2.3,1.55,2.4,1.7,2.5,1.55,2.6,1.8,2.7,1.75,2.8,1.95,2.9,1.85,3.0,2.05,3.1,2.15,3.2,1.95,3.3,2.2,2.15,1.15,2.35,1.3,2.55,1.3,2.75,1.4,2.95,1.6,3.15,1.5,2.45,2.0,2.65,2.15,2.85,2.3,3.05,2.4,2.25,1.95,2.5,1.15,2.75,1.1,
2.4,1.6,2.5,1.75,2.6,1.6,2.7,1.85,2.8,1.7,2.9,1.95,3.0,1.8,3.1,2.05,2.55,1.45,2.75,1.55,2.95,1.75,3.15,1.85,2.65,1.95,2.85,2.1,3.05,2.2];

const cases_2022_1_lo = [4.11,-1.97,4.78,-1.97,5.52,-1.97,6.09,-1.97,3.21,-1.57,3.68,-1.57,3.84,-1.57,4.23,-1.57,4.55,-1.57,
2.82,-1.22,3.13,-1.22,3.53,-1.22,3.84,-1.22,4.0,-1.22,4.23,-1.22,4.63,-1.22,5.34,-1.22,
2.82,-0.93,3.13,-0.93,3.53,-0.93,3.92,-0.93,4.31,-0.93,4.63,-0.93,4.78,-0.93,2.74,-0.7,3.13,-0.7,3.53,-0.7,3.92,-0.7,4.23,-0.7,4.47,-0.7,4.78,-0.7,
2.98,-0.4,3.37,-0.4,3.76,-0.4,4.16,-0.4,4.55,-0.4,4.78,-0.4,5.65,-0.18,5.89,-0.18,6.12,-0.18,6.24,-0.18,
3.8,-0.2,3.9,-0.55,4.0,-0.3,4.05,-0.8,4.1,-0.15,4.2,-0.5,4.25,-0.95,4.3,-0.25,4.4,-0.65,4.45,-0.1,4.5,-0.4,4.6,-0.8,4.65,-0.2,4.7,-0.55,3.95,-1.0,4.35,-0.45,4.15,-0.65,3.6,-0.3,3.4,-0.6,3.2,-0.2,5.0,-0.15,5.2,-0.3,5.4,-0.1,4.9,-0.45,
3.85,-0.45,3.95,-0.6,4.05,-0.4,4.15,-0.55,4.25,-0.45,4.35,-0.7,4.45,-0.5,4.55,-0.6,4.0,-0.7,4.2,-0.8,4.4,-0.35,4.6,-0.45,4.1,-0.35,4.3,-0.55,4.5,-0.75,3.9,-0.8,4.2,-0.25,4.4,-0.85,
4.0,-0.5,4.1,-0.6,4.2,-0.45,4.3,-0.6,4.4,-0.5,4.15,-0.75,4.35,-0.35,4.05,-0.3,4.25,-0.65,4.5,-0.55];
const cases_2022_1_mid = [2.66,0.27,2.85,0.1,3.0,0.45,3.2,0.2,3.35,0.6,3.5,0.3,3.65,0.1,3.8,0.5,3.9,0.25,4.0,0.7,4.1,0.4,4.2,0.15,4.3,0.55,4.4,0.3,4.5,0.1,4.6,0.45,4.75,0.2,4.9,0.6,5.05,0.35,5.2,0.1,5.4,0.5,5.55,0.25,5.7,0.65,5.85,0.4,6.0,0.15,6.2,0.5,6.35,0.3,6.5,0.6,6.7,0.2,6.85,0.45,7.0,0.35,7.2,0.55,7.38,0.09,7.55,0.4,7.85,0.52,6.45,0.05,5.95,0.6,
3.75,0.35,3.95,0.45,4.05,0.25,4.15,0.35,4.35,0.45,4.55,0.3,4.65,0.2,3.85,0.2,4.25,0.3,4.45,0.15];
const cases_2022_1_hi = [3.45,1.61,3.84,1.61,4.31,1.76,4.63,2.13,5.1,2.28,5.34,1.91,5.65,2.28,5.96,2.36,6.28,2.13,3.84,1.31,3.13,1.01,3.37,1.31,4.23,0.94,4.71,1.09,5.02,1.39,5.34,1.16,5.65,1.01,6.12,1.24,6.44,1.61,5.81,1.76,2.98,1.46,
6.75,1.6,6.8,2.0,6.85,1.35,6.9,1.8,6.95,2.25,7.0,1.5,7.05,1.95,7.1,1.25,7.15,2.1,7.2,1.7,7.25,2.4,7.3,1.45,7.35,1.9,7.4,2.2,7.45,1.6,7.5,2.0,7.55,1.35,7.6,1.8,7.65,2.3,7.7,1.55,7.75,2.05,7.8,1.75,7.9,1.9,7.95,1.5,8.0,2.15,7.41,2.61,8.29,1.72,7.2,1.1,7.6,1.15,7.0,2.4,7.3,1.75,7.5,1.7,7.4,1.95,6.6,1.4,6.6,2.4,
6.85,1.7,6.95,1.85,7.05,1.6,7.1,1.75,7.2,1.9,7.25,1.6,7.3,2.05,7.35,1.7,7.45,1.85,7.5,1.55,7.55,1.95,7.6,1.65,7.7,1.85,7.75,1.5,7.0,1.95,7.15,1.45,7.4,1.5,7.65,2.0,7.8,1.65,7.25,2.2,7.5,2.2,6.9,1.5,7.35,1.35,7.6,1.4,
7.1,1.8,7.2,1.65,7.3,1.9,7.4,1.75,7.5,1.85,7.6,1.7,7.15,2.0,7.35,2.05,7.55,1.6,7.0,1.7,7.45,1.55,7.25,1.5];

const hosp_2022_1_lo = [0.85,-1.97,1.34,-1.97,2.18,-1.97,2.38,-1.97,0.54,-1.57,0.81,-1.57,1.08,-1.57,1.41,-1.57,1.48,-1.57,
0.74,-1.22,1.01,-1.22,1.28,-1.22,1.54,-1.22,0.08,-0.85,0.21,-0.55,0.68,-0.93,1.01,-0.93,1.34,-0.93,
0.7,-0.4,0.8,-0.65,0.9,-0.2,0.95,-0.5,1.05,-0.8,1.1,-0.3,1.2,-0.6,1.25,-0.1,1.3,-0.45,1.4,-0.75,1.45,-0.25,1.5,-0.55,1.6,-0.15,1.65,-0.4,1.7,-0.7,1.8,-0.3,1.9,-0.5,2.0,-0.2,2.1,-0.4,1.15,-0.45,1.35,-0.3,1.55,-0.35,1.0,-0.55,2.54,-0.18,2.88,-0.55,3.18,-0.13,2.3,-0.3,
0.95,-0.35,1.05,-0.5,1.15,-0.6,1.25,-0.4,1.35,-0.55,1.45,-0.45,1.55,-0.6,1.65,-0.5,1.75,-0.4,1.85,-0.45,1.0,-0.7,1.2,-0.25,1.4,-0.6,1.6,-0.3,1.3,-0.7,1.5,-0.4,1.1,-0.45,1.7,-0.55,
1.1,-0.55,1.2,-0.5,1.3,-0.45,1.4,-0.5,1.5,-0.55,1.25,-0.65,1.45,-0.35,1.15,-0.35,1.35,-0.6,1.6,-0.45];
const hosp_2022_1_mid = [0.68,0.07,0.9,0.3,1.1,0.15,1.25,0.5,1.4,0.3,1.5,0.05,1.6,0.6,1.7,0.35,1.8,0.15,1.9,0.5,2.0,0.3,2.1,0.7,2.2,0.2,2.3,0.45,2.4,0.1,2.5,0.55,2.6,0.3,2.7,0.15,2.8,0.6,2.9,0.4,3.0,0.2,3.15,0.5,3.3,0.3,3.45,0.6,3.6,0.2,3.75,0.45,3.9,0.3,4.1,0.5,4.48,0.52,1.45,0.5,2.25,0.6,
1.6,0.35,1.8,0.3,2.0,0.4,2.2,0.35,2.4,0.3,1.7,0.5,1.9,0.25,2.1,0.45,2.3,0.2,2.5,0.4];
const hosp_2022_1_hi = [1.05,1.31,1.28,1.39,1.61,1.69,2.01,1.91,2.14,1.61,2.81,2.28,1.74,1.09,2.28,1.31,1.34,0.94,1.88,2.21,2.54,1.76,
2.85,1.4,2.9,1.8,2.95,1.15,3.0,1.6,3.05,2.0,3.1,1.35,3.15,1.75,3.2,2.15,3.25,1.5,3.3,1.9,3.35,1.2,3.4,2.3,3.45,1.65,3.5,2.05,3.55,1.4,3.6,1.85,3.65,2.2,3.7,1.6,3.74,2.58,3.75,2.0,3.8,1.75,3.85,2.35,3.9,1.9,3.95,1.5,4.0,2.1,4.1,1.8,4.2,2.2,4.28,1.7,4.48,1.9,4.4,0.95,2.7,1.3,3.2,1.0,3.5,1.0,3.6,2.5,3.3,1.65,3.6,1.55,
3.05,1.55,3.15,1.65,3.25,1.8,3.35,1.6,3.45,1.9,3.55,1.75,3.65,1.95,3.75,1.8,3.85,2.05,3.95,1.85,4.05,2.0,3.2,1.4,3.4,1.45,3.6,1.65,3.8,1.55,4.0,1.7,3.3,2.05,3.5,2.2,3.7,2.3,3.9,2.2,3.1,1.85,3.45,1.25,3.7,1.4,4.15,1.95,
3.3,1.75,3.4,1.85,3.5,1.7,3.6,1.9,3.7,1.75,3.8,1.95,3.45,2.0,3.65,2.05,3.35,1.55,3.55,1.55,3.75,1.6,3.9,1.8];

const beds_2022_1_lo = [0.76,-1.97,1.16,-1.97,1.82,-1.97,2.18,-1.97,0.57,-1.57,0.76,-1.57,1.07,-1.57,1.63,-1.57,
0.6,-1.22,0.85,-1.22,1.1,-1.22,1.35,-1.22,1.61,-1.22,-0.23,-0.7,0.3,-0.9,0.5,-1.0,0.7,-0.85,0.9,-1.0,1.1,-0.85,1.3,-0.95,
0.4,-0.4,0.5,-0.2,0.55,-0.6,0.65,-0.35,0.7,-0.1,0.75,-0.55,0.85,-0.25,0.9,-0.7,0.95,-0.4,1.05,-0.15,1.1,-0.5,1.2,-0.3,1.25,-0.7,1.3,-0.1,1.4,-0.45,1.5,-0.25,1.6,-0.6,1.75,-0.35,1.9,-0.2,2.05,-0.45,2.55,-0.55,2.87,-0.18,3.12,-0.18,2.3,-0.1,0.8,-0.45,1.0,-0.3,
0.6,-0.4,0.7,-0.55,0.8,-0.35,0.9,-0.5,1.0,-0.45,1.1,-0.65,1.2,-0.45,1.3,-0.55,0.65,-0.7,0.85,-0.6,1.05,-0.3,1.25,-0.3,0.75,-0.25,0.95,-0.55,1.15,-0.55,1.35,-0.4,
0.7,-0.45,0.8,-0.5,0.9,-0.4,1.0,-0.55,1.1,-0.45,0.75,-0.65,0.95,-0.7,1.15,-0.35,0.85,-0.3,1.05,-0.6];
const beds_2022_1_mid = [0.02,0.07,0.3,0.3,0.5,0.15,0.65,0.5,0.8,0.25,0.9,0.05,1.0,0.55,1.1,0.3,1.2,0.15,1.3,0.6,1.4,0.35,1.5,0.1,1.6,0.5,1.7,0.25,1.8,0.65,1.9,0.4,2.0,0.15,2.1,0.5,2.2,0.3,2.35,0.6,2.5,0.2,2.65,0.45,2.8,0.3,2.95,0.55,3.1,0.2,3.25,0.4,3.5,0.57,1.15,0.7,
1.1,0.35,1.3,0.3,1.5,0.35,1.7,0.4,1.9,0.3,2.1,0.35,1.2,0.5,1.4,0.2,1.6,0.25,1.8,0.5,2.0,0.45,2.2,0.2];
const beds_2022_1_hi = [0.6,1.0,0.75,1.3,0.9,1.1,1.0,1.5,1.1,0.95,1.2,1.7,1.3,1.25,1.4,2.0,1.5,1.45,1.6,1.1,1.7,1.8,1.8,1.3,1.9,2.1,2.0,1.55,2.1,1.05,2.2,1.85,
2.6,1.3,2.65,1.8,2.7,1.1,2.75,2.1,2.8,1.55,2.85,0.95,2.9,1.9,2.95,1.35,3.0,2.3,3.05,1.7,3.1,1.15,3.15,2.05,3.2,1.5,3.25,1.0,3.3,1.85,3.35,2.25,3.4,1.4,3.45,1.95,3.5,1.2,3.55,1.65,3.57,2.1,3.12,2.61,3.3,2.45,2.5,2.2,2.4,1.6,3.0,1.6,3.2,1.8,3.4,1.7,2.9,1.25,
2.75,1.6,2.85,1.75,2.95,1.6,3.05,1.85,3.15,1.7,3.25,1.95,3.35,1.75,3.45,1.6,3.5,1.85,2.8,1.35,2.9,2.05,3.0,1.45,3.1,1.95,3.2,1.35,3.3,1.55,3.4,2.1,3.55,1.45,3.1,2.25,3.3,2.3,2.7,1.85,3.45,1.3,2.95,1.2,
3.0,1.75,3.1,1.6,3.2,1.85,3.3,1.7,3.4,1.85,3.05,1.95,3.25,2.0,3.15,1.45,3.35,1.5,2.9,1.6,3.45,1.7,2.95,1.85];

const cases_2022_2_lo = [2.66,-1.03,2.9,-0.5,3.0,-0.75,3.1,-0.3,3.2,-1.0,3.3,-0.55,3.4,-0.2,3.5,-0.8,3.6,-0.4,3.7,-1.1,3.8,-0.6,3.9,-0.15,4.0,-0.9,4.1,-0.45,4.2,-0.7,3.35,-0.05,
4.4,-0.3,4.5,-0.7,4.55,-0.1,4.65,-0.5,4.7,-0.9,4.8,-0.25,4.85,-0.65,4.95,-0.05,5.0,-0.45,5.05,-0.85,5.15,-0.2,5.2,-0.6,5.3,-0.35,5.35,-1.0,5.4,-0.1,5.45,-0.5,5.55,-0.75,5.6,-0.25,5.65,-0.5,5.75,-0.1,5.8,-0.4,5.85,-0.8,5.95,-0.2,6.0,-0.55,6.1,-0.35,6.2,-0.1,6.28,-0.6,6.51,-0.43,5.1,-0.4,5.5,-0.3,5.25,-0.15,5.7,-0.65,4.9,-0.35,
3.0,-1.2,3.6,-1.2,4.3,-1.2,4.9,-1.2,5.3,-1.2,5.8,-1.2,
2.82,-1.5,3.1,-1.5,3.3,-1.5,3.55,-1.5,3.8,-1.5,4.0,-1.5,4.2,-1.5,4.4,-1.5,4.6,-1.5,4.8,-1.5,5.0,-1.5,5.2,-1.5,5.4,-1.5,5.6,-1.5,5.85,-1.5,6.04,-1.5,4.5,-1.5,5.3,-1.5,
2.98,-1.93,3.2,-1.93,3.45,-1.93,3.7,-1.93,3.95,-1.93,4.15,-1.93,4.4,-1.93,4.6,-1.93,4.8,-1.93,5.0,-1.93,5.25,-1.93,5.5,-1.93,5.75,-1.93,6.0,-1.93,6.28,-1.93,4.4,-1.93,5.0,-1.93,5.5,-1.93,
4.0,-2.72,4.4,-2.72,4.7,-2.72,5.0,-2.72,5.3,-2.72,5.7,-2.72,3.6,-2.9,4.5,-2.9,5.5,-2.9,5.95,-2.9,
4.6,-0.4,4.75,-0.55,4.9,-0.6,5.0,-0.3,5.1,-0.7,5.2,-0.45,5.3,-0.6,5.4,-0.4,5.5,-0.55,5.6,-0.7,5.7,-0.35,5.8,-0.55,5.9,-0.45,6.0,-0.3,6.1,-0.6,4.8,-0.8,5.05,-0.15,5.25,-0.85,5.45,-0.2,5.65,-0.9,5.85,-0.2,4.7,-0.2,5.35,-0.5,5.55,-0.4,5.75,-0.5,5.95,-0.7,5.15,-0.5,4.95,-0.45,
4.2,-1.5,4.9,-1.5,5.5,-1.5,4.7,-1.93,5.2,-1.93,5.9,-1.93,5.1,-1.2,5.6,-1.2,4.6,-1.2,
5.2,-0.35,5.3,-0.45,5.4,-0.55,5.5,-0.45,5.6,-0.35,5.7,-0.45,5.8,-0.6,5.9,-0.35,5.35,-0.7,5.55,-0.6,5.75,-0.25,5.45,-0.3,5.65,-0.6,5.05,-0.55,6.0,-0.45];
const cases_2022_2_mid = [2.74,0.24,3.1,0.31,3.4,0.15,3.6,0.35,3.8,0.1,4.0,0.4,4.15,0.2,4.3,0.5,4.45,0.1,4.6,0.3,4.75,0.5,4.9,0.15,5.0,0.35,5.1,0.05,5.2,0.45,5.3,0.25,5.4,0.1,5.5,0.4,5.6,0.2,5.7,0.5,5.8,0.3,5.9,0.1,6.0,0.4,6.1,0.2,6.25,0.05,6.5,0.15,5.25,0.6,5.55,0.05,4.5,0.65,
5.05,0.25,5.15,0.35,5.35,0.3,5.45,0.2,5.65,0.3,5.75,0.2,5.85,0.4,5.95,0.25,6.05,0.3,5.25,0.15,5.55,0.35,5.35,0.45,
5.4,0.3,5.6,0.3,5.8,0.25,5.5,0.2,5.7,0.35];
const cases_2022_2_hi = [2.0,0.94,5.93,1.85,3.68,1.21,4.0,1.24,4.34,1.33,4.63,0.84,4.94,0.79,5.34,0.94,5.81,0.79,6.04,0.73,3.45,0.84,3.84,0.84,4.11,0.76,4.39,0.73,5.05,1.13,5.62,0.88,5.41,0.69,4.2,1.0,5.2,0.75];

const hosp_2022_2_lo = [-0.39,-1.25,0.3,-0.9,0.45,-0.4,0.55,-0.7,0.65,-0.15,0.75,-1.0,0.85,-0.5,0.95,-0.25,1.0,-0.8,1.1,-0.05,1.15,-0.55,1.25,-0.3,1.3,-0.95,1.4,-0.6,1.45,-0.1,1.55,-0.4,1.6,-0.75,1.7,-0.2,1.75,-0.55,1.85,-0.05,1.9,-0.35,1.95,-0.85,2.05,-0.5,2.1,-0.15,2.2,-0.65,2.25,-0.3,2.35,-0.05,2.4,-0.45,2.5,-0.8,2.55,-0.2,2.65,-0.5,2.75,-0.1,2.85,-0.35,3.0,-0.2,3.05,-0.6,1.8,-0.45,2.0,-0.3,2.3,-0.5,1.5,-0.2,2.15,-0.4,
0.4,-1.2,0.9,-1.2,1.5,-1.2,2.0,-1.2,2.5,-1.2,2.9,-1.2,
0.0,-1.5,0.3,-1.5,0.6,-1.5,0.9,-1.5,1.1,-1.5,1.3,-1.5,1.5,-1.5,1.7,-1.5,1.9,-1.5,2.1,-1.5,2.3,-1.5,2.5,-1.5,2.7,-1.5,1.6,-1.5,
0.1,-1.93,0.4,-1.93,0.7,-1.93,0.95,-1.93,1.2,-1.93,1.4,-1.93,1.6,-1.93,1.8,-1.93,2.0,-1.93,2.2,-1.93,2.45,-1.93,2.7,-1.93,2.95,-1.93,1.8,-1.93,
1.0,-2.72,1.3,-2.72,1.6,-2.72,1.9,-2.72,2.2,-2.72,2.5,-2.72,1.2,-2.9,1.9,-2.9,2.6,-2.9,
1.1,-0.4,1.3,-0.5,1.5,-0.55,1.7,-0.45,1.9,-0.6,2.1,-0.5,2.3,-0.35,2.5,-0.5,1.2,-0.7,1.4,-0.3,1.6,-0.6,1.8,-0.3,2.0,-0.65,2.2,-0.25,2.4,-0.65,2.6,-0.3,1.35,-0.15,1.65,-0.1,1.95,-0.15,2.25,-0.75,1.45,-0.8,1.75,-0.75,2.05,-0.85,2.45,-0.2,
1.0,-1.5,1.8,-1.5,2.2,-1.5,1.3,-1.93,2.1,-1.93,2.6,-1.93,1.2,-1.2,1.8,-1.2,
1.6,-0.4,1.7,-0.5,1.8,-0.6,1.9,-0.45,2.0,-0.5,2.1,-0.4,2.2,-0.55,2.3,-0.45,1.75,-0.3,1.95,-0.3,2.15,-0.65,2.35,-0.6,1.85,-0.75,2.05,-0.2];
const hosp_2022_2_mid = [0.34,0.3,0.6,0.15,0.8,0.4,1.0,0.2,1.2,0.45,1.35,0.1,1.5,0.35,1.6,0.05,1.7,0.5,1.8,0.25,1.85,0.05,1.95,0.4,2.0,0.15,2.1,0.3,2.15,0.55,2.2,0.1,2.3,0.35,2.4,0.2,2.45,0.5,2.55,0.05,2.6,0.3,2.7,0.15,2.8,0.4,2.95,0.2,3.05,0.35,1.9,0.25,2.25,0.2,1.1,0.05,
1.75,0.3,1.85,0.2,2.0,0.3,2.1,0.15,2.2,0.35,2.35,0.25,2.5,0.3,2.65,0.2,2.05,0.4,2.4,0.4,
2.1,0.25,2.3,0.3,2.2,0.2,2.4,0.3];
const hosp_2022_2_hi = [2.52,1.84,0.81,1.33,0.94,1.21,1.08,1.24,1.41,1.21,1.74,1.21,1.61,0.88,1.21,0.79,0.68,0.76,2.14,0.88,2.54,0.79,3.01,0.73,1.05,0.88,1.9,0.9,2.3,0.85];

const beds_2022_2_lo = [-0.48,-0.5,-0.4,-0.75,-0.3,-0.35,-0.2,-1.0,-0.1,-0.6,0.0,-0.2,0.1,-0.85,0.15,-0.45,0.25,-0.1,0.3,-0.65,0.4,-0.3,0.5,-0.9,0.55,-0.05,0.6,-0.5,0.7,-0.2,0.75,-0.75,0.85,-0.4,0.9,-0.05,1.0,-0.6,1.05,-0.25,1.15,-0.85,1.2,-0.45,1.25,-0.1,1.35,-0.35,1.4,-0.7,1.5,-0.15,1.55,-0.5,1.65,-0.3,1.7,-0.05,1.8,-0.45,1.86,-0.2,2.0,-0.6,2.2,-0.3,2.4,-0.05,2.4,-0.3,2.3,-0.9,2.2,-1.3,0.8,-0.3,1.1,-0.35,1.3,-0.55,0.45,-0.45,
-0.4,-1.2,0.0,-1.2,0.5,-1.2,1.0,-1.2,1.5,-1.2,
-0.35,-1.5,-0.1,-1.5,0.15,-1.5,0.4,-1.5,0.6,-1.5,0.8,-1.5,1.0,-1.5,1.2,-1.5,1.4,-1.5,1.6,-1.5,1.8,-1.5,2.0,-1.5,0.9,-1.5,
-0.25,-1.93,0.0,-1.93,0.25,-1.93,0.5,-1.93,0.7,-1.93,0.9,-1.93,1.1,-1.93,1.3,-1.93,1.5,-1.93,1.7,-1.93,1.9,-1.93,2.1,-1.93,1.2,-1.93,
0.5,-2.72,0.8,-2.72,1.1,-2.72,1.4,-2.72,0.7,-2.9,1.3,-2.9,
0.5,-0.35,0.65,-0.55,0.8,-0.45,0.95,-0.6,1.1,-0.5,1.25,-0.65,1.4,-0.45,1.55,-0.6,1.7,-0.4,1.85,-0.55,0.6,-0.8,0.9,-0.2,1.2,-0.25,1.5,-0.3,1.8,-0.25,0.75,-0.15,1.05,-0.85,1.35,-0.85,1.65,-0.75,0.4,-0.6,1.0,-0.4,1.3,-0.4,1.6,-0.15,
0.5,-1.5,1.1,-1.5,1.5,-1.5,0.6,-1.93,1.2,-1.93,1.6,-1.93,0.8,-1.2,1.2,-1.2,
1.0,-0.5,1.1,-0.4,1.2,-0.55,1.3,-0.45,1.4,-0.55,1.5,-0.45,1.6,-0.5,1.7,-0.55,1.15,-0.7,1.35,-0.3,1.55,-0.7,1.25,-0.15,1.45,-0.25,1.75,-0.3];
const beds_2022_2_mid = [-0.23,0.3,0.1,0.15,0.3,0.4,0.45,0.1,0.6,0.3,0.75,0.05,0.85,0.45,0.95,0.2,1.05,0.35,1.15,0.1,1.25,0.5,1.3,0.25,1.4,0.05,1.45,0.4,1.55,0.15,1.6,0.3,1.7,0.05,1.75,0.45,1.85,0.2,1.9,0.35,2.0,0.1,2.1,0.3,2.49,0.3,2.3,0.05,1.35,0.2,1.65,0.25,0.5,0.55,
1.25,0.3,1.35,0.35,1.45,0.25,1.55,0.35,1.65,0.15,1.75,0.3,1.85,0.35,1.95,0.25,1.5,0.1,1.8,0.1,
1.5,0.3,1.6,0.25,1.7,0.3,1.4,0.3];
const beds_2022_2_hi = [2.07,1.84,2.3,0.94,-0.29,0.76,0.15,0.79,0.4,0.88,0.53,1.28,0.66,1.33,0.72,1.21,0.59,0.88,0.78,0.73,1.1,1.13,1.48,0.88,1.86,0.84,1.99,0.76,0.9,0.95,0.45,1.45,0.6,1.5];

const cases_2022_3_lo = [3.68,-0.1,3.85,-0.3,4.0,-0.15,4.05,-0.55,4.15,-0.3,4.2,-0.8,4.3,-0.05,4.35,-0.45,4.45,-0.25,4.5,-0.7,4.6,-0.1,4.65,-0.5,4.75,-0.3,4.8,-0.85,4.9,-0.15,4.95,-0.6,5.05,-0.35,5.1,-0.05,5.15,-0.75,5.25,-0.25,5.3,-0.5,5.4,-0.1,5.45,-0.65,5.55,-0.35,5.6,-0.9,5.7,-0.2,5.75,-0.5,5.85,-0.05,5.9,-0.35,6.0,-0.6,6.1,-0.2,6.36,-0.69,4.7,-0.4,5.0,-0.3,5.35,-0.3,5.2,-0.4,4.4,-1.0,4.8,-1.15,5.1,-1.1,5.5,-1.2,5.9,-1.05,4.3,-1.25,
4.3,-1.51,4.5,-1.51,4.75,-1.51,4.95,-1.51,5.2,-1.51,5.4,-1.51,5.6,-1.51,5.81,-1.51,
4.55,-1.93,4.75,-1.93,4.95,-1.93,5.15,-1.93,5.35,-1.93,5.55,-1.93,5.7,-1.93,4.63,-2.63,5.5,-2.63,5.81,-2.63,6.2,-2.85,
4.4,-0.35,4.55,-0.5,4.7,-0.6,4.85,-0.45,5.0,-0.55,5.15,-0.4,5.3,-0.65,5.45,-0.45,5.6,-0.5,5.75,-0.35,4.5,-0.2,4.8,-0.2,5.1,-0.25,5.4,-0.25,5.7,-0.6,4.6,-0.75,4.9,-0.7,5.2,-0.8,5.5,-0.75,5.05,-0.15,5.35,-0.45,4.75,-0.4,5.25,-0.1,5.55,-0.15,
4.6,-1.51,5.0,-1.51,5.3,-1.51,4.8,-1.93,5.1,-1.93,5.0,-1.25,5.3,-1.05,
4.8,-0.5,4.9,-0.4,5.0,-0.45,5.1,-0.55,5.2,-0.45,5.3,-0.35,5.4,-0.55,5.5,-0.4,4.95,-0.65,5.15,-0.3,5.35,-0.6,5.05,-0.25,5.25,-0.7,4.85,-0.3];
const cases_2022_3_mid = [4.23,0.2,4.4,0.45,4.5,0.1,4.6,0.3,4.7,0.6,4.75,0.15,4.85,0.4,4.9,0.05,5.0,0.25,5.05,0.55,5.15,0.1,5.2,0.35,5.3,0.7,5.35,0.2,5.45,0.45,5.5,0.05,5.55,0.3,5.65,0.6,5.7,0.15,5.8,0.4,5.85,0.25,5.95,0.1,6.0,0.5,6.1,0.3,6.2,0.15,6.35,0.35,6.5,0.3,5.25,0.25,5.6,0.45,4.95,0.4,
4.7,0.3,4.85,0.25,5.0,0.4,5.15,0.3,5.3,0.35,5.45,0.25,5.6,0.3,5.75,0.35,5.9,0.3,6.05,0.2,4.8,0.5,5.1,0.5,5.4,0.5,5.7,0.5,5.2,0.15,5.5,0.15,4.9,0.15,
5.0,0.3,5.1,0.35,5.2,0.25,5.3,0.4,5.4,0.3,5.5,0.35,5.6,0.25,5.25,0.5,5.45,0.15,5.15,0.2];
const cases_2022_3_hi = [4.47,1.4,4.78,1.36,5.18,1.48,5.49,1.25,5.65,1.48,5.68,1.51,5.34,1.1,4.94,1.15,5.81,1.03,5.96,0.88,5.57,0.88,4.63,0.96,5.1,1.03];

const hosp_2022_3_lo = [1.08,-0.35,1.2,-0.6,1.3,-0.15,1.35,-0.45,1.45,-0.8,1.5,-0.25,1.6,-0.55,1.65,-0.05,1.7,-0.35,1.8,-0.7,1.85,-0.2,1.9,-0.5,2.0,-0.05,2.05,-0.35,2.1,-0.8,2.15,-0.2,2.2,-0.6,2.3,-0.4,2.35,-0.1,2.45,-0.65,2.5,-0.3,2.55,-0.05,2.65,-0.5,2.75,-0.25,2.85,-0.6,2.94,-0.2,1.55,-1.0,1.95,-1.1,2.4,-1.0,2.0,-0.45,1.75,-0.35,2.25,-0.3,1.5,-1.2,
1.5,-1.51,1.7,-1.51,1.9,-1.51,2.1,-1.51,2.3,-1.51,2.5,-1.51,2.65,-1.51,
1.6,-1.93,1.8,-1.93,2.0,-1.93,2.2,-1.93,2.4,-1.93,2.6,-1.93,2.75,-1.93,2.95,-1.93,3.1,-1.93,1.9,-2.63,2.2,-2.63,2.5,-2.63,2.3,-2.85,
1.55,-0.35,1.65,-0.5,1.75,-0.6,1.85,-0.45,1.95,-0.55,2.05,-0.4,2.15,-0.6,2.25,-0.45,2.35,-0.55,2.45,-0.4,2.55,-0.5,1.6,-0.2,1.8,-0.15,2.0,-0.25,2.2,-0.2,2.4,-0.2,1.7,-0.75,1.9,-0.75,2.1,-0.7,2.3,-0.75,2.6,-0.35,2.05,-0.6,1.95,-0.3,
1.8,-1.51,2.2,-1.51,2.1,-1.93,2.5,-1.93,2.0,-1.25,
1.9,-0.45,2.0,-0.55,2.1,-0.45,2.2,-0.5,2.3,-0.4,2.4,-0.55,1.95,-0.7,2.15,-0.3,2.35,-0.7,2.05,-0.2,1.85,-0.6,2.25,-0.6];
const hosp_2022_3_mid = [1.34,0.4,1.5,0.15,1.6,0.5,1.7,0.25,1.8,0.05,1.9,0.4,1.95,0.65,2.0,0.2,2.1,0.45,2.15,0.1,2.25,0.3,2.3,0.6,2.4,0.15,2.45,0.4,2.55,0.25,2.6,0.7,2.7,0.35,2.75,0.1,2.85,0.5,2.95,0.25,3.05,0.4,2.2,0.5,1.85,0.2,2.5,0.55,
1.85,0.35,1.95,0.3,2.05,0.4,2.15,0.3,2.25,0.45,2.35,0.35,2.45,0.3,2.55,0.4,2.65,0.3,2.75,0.2,2.0,0.15,2.3,0.15,2.6,0.15,2.4,0.5,
2.1,0.35,2.2,0.3,2.3,0.4,2.4,0.3,2.5,0.35,2.35,0.2,2.25,0.5,2.55,0.2];
const hosp_2022_3_hi = [1.41,1.4,2.01,1.33,2.28,1.48,2.34,1.18,2.94,1.03,3.21,0.88,2.61,1.15,3.1,0.88,2.5,1.4,2.2,1.0];

const beds_2022_3_lo = [0.47,-0.6,0.66,-0.25,0.8,-0.5,0.95,-0.1,1.0,-0.7,1.1,-0.35,1.15,-0.85,1.25,-0.15,1.3,-0.55,1.4,-0.3,1.45,-0.05,1.5,-0.7,1.55,-0.4,1.65,-0.15,1.7,-0.6,1.75,-0.35,1.85,-0.05,1.9,-0.5,1.95,-0.8,2.0,-0.25,2.1,-0.45,2.15,-0.1,2.2,-0.65,2.3,-0.3,2.36,-0.05,1.6,-0.45,1.8,-0.3,1.35,-1.0,1.7,-1.1,2.0,-1.05,1.2,-1.2,1.8,-1.25,
1.0,-1.51,1.2,-1.51,1.4,-1.51,1.6,-1.51,1.8,-1.51,2.0,-1.51,
1.2,-1.93,1.4,-1.93,1.6,-1.93,1.75,-1.93,1.9,-1.93,2.05,-1.93,1.6,-2.63,1.85,-2.63,1.4,-2.85,
1.25,-0.4,1.35,-0.55,1.45,-0.45,1.55,-0.6,1.65,-0.45,1.75,-0.55,1.85,-0.4,1.95,-0.5,2.05,-0.6,2.15,-0.4,2.25,-0.5,1.3,-0.25,1.5,-0.2,1.7,-0.25,1.9,-0.2,2.1,-0.2,1.4,-0.75,1.6,-0.8,1.8,-0.7,2.0,-0.75,2.2,-0.75,1.85,-0.65,
1.5,-1.51,1.7,-1.51,1.6,-1.93,1.85,-1.93,
1.6,-0.5,1.7,-0.45,1.8,-0.55,1.9,-0.45,2.0,-0.5,2.1,-0.55,1.75,-0.7,1.95,-0.3,2.15,-0.3,1.65,-0.3,1.85,-0.75,2.05,-0.7];
const beds_2022_3_mid = [1.1,0.15,1.2,0.4,1.3,0.1,1.35,0.55,1.4,0.25,1.5,0.05,1.55,0.45,1.6,0.2,1.7,0.6,1.75,0.3,1.8,0.1,1.9,0.45,1.95,0.2,2.0,0.65,2.05,0.35,2.15,0.1,2.2,0.5,2.3,0.25,2.36,0.4,1.65,0.35,1.85,0.3,2.1,0.7,
1.45,0.35,1.55,0.3,1.65,0.45,1.75,0.4,1.85,0.35,1.95,0.4,2.05,0.25,2.15,0.35,2.25,0.3,1.6,0.15,1.8,0.2,2.0,0.5,2.2,0.45,
1.7,0.35,1.8,0.3,1.9,0.35,2.0,0.3,2.1,0.4,1.85,0.5,1.95,0.15,2.15,0.2];
const beds_2022_3_hi = [0.85,1.4,1.16,1.36,1.99,1.4,1.42,1.15,1.61,1.03,1.86,1.06,2.17,1.03,2.3,0.88,1.48,0.73,2.1,1.2];

// ---- table built from the arrays: panels[row][col] = [lo, mid, hi] ----
const panels = [
  [[cases_2021_2_lo, cases_2021_2_mid, cases_2021_2_hi], [hosp_2021_2_lo, hosp_2021_2_mid, hosp_2021_2_hi], [beds_2021_2_lo, beds_2021_2_mid, beds_2021_2_hi]],
  [[cases_2021_3_lo, cases_2021_3_mid, cases_2021_3_hi], [hosp_2021_3_lo, hosp_2021_3_mid, hosp_2021_3_hi], [beds_2021_3_lo, beds_2021_3_mid, beds_2021_3_hi]],
  [[cases_2021_4_lo, cases_2021_4_mid, cases_2021_4_hi], [hosp_2021_4_lo, hosp_2021_4_mid, hosp_2021_4_hi], [beds_2021_4_lo, beds_2021_4_mid, beds_2021_4_hi]],
  [[cases_2022_1_lo, cases_2022_1_mid, cases_2022_1_hi], [hosp_2022_1_lo, hosp_2022_1_mid, hosp_2022_1_hi], [beds_2022_1_lo, beds_2022_1_mid, beds_2022_1_hi]],
  [[cases_2022_2_lo, cases_2022_2_mid, cases_2022_2_hi], [hosp_2022_2_lo, hosp_2022_2_mid, hosp_2022_2_hi], [beds_2022_2_lo, beds_2022_2_mid, beds_2022_2_hi]],
  [[cases_2022_3_lo, cases_2022_3_mid, cases_2022_3_hi], [hosp_2022_3_lo, hosp_2022_3_mid, hosp_2022_3_hi], [beds_2022_3_lo, beds_2022_3_mid, beds_2022_3_hi]]
];

// ---- styling / layout ----
const FONT = '"Liberation Sans", Arial, Helvetica, sans-serif';
const baseColors = [[11, 95, 165], [240, 144, 30], [184, 49, 31]];
const fillA = 0.25, strokeA = 0.4;
const rgba = (c, a) => `rgba(${c[0]},${c[1]},${c[2]},${a})`;
const colLeft = [58, 264, 469], colW = [200, 194, 195];
const rowTop0 = 33, rowH = 135, rowStep = 146;
const legendLeft = [79, 274, 482];

function pairs(flat) { const out = []; for (let i = 0; i < flat.length; i += 2) out.push([flat[i], flat[i + 1]]); return out; }

const grids = [], xAxes = [], yAxes = [], series = [], graphics = [];
for (let r = 0; r < 6; r++) {
  for (let c = 0; c < 3; c++) {
    const gi = r * 3 + c;
    const top = rowTop0 + r * rowStep;
    grids.push({ left: colLeft[c], top: top, width: colW[c], height: rowH, show: true, borderColor: '#333333', borderWidth: 1, containLabel: false });
    const isBottom = r === 5, isLeft = c === 0;
    xAxes.push({
      gridIndex: gi, type: 'value', min: xRanges[c][0], max: xRanges[c][1],
      axisLine: { show: isBottom, onZero: false, lineStyle: { color: '#000', width: 1.8 } },
      axisTick: { show: isBottom, length: 4.5, customValues: xTickValues[c], lineStyle: { color: '#333', width: 1 } },
      axisLabel: { show: isBottom, customValues: xTickValues[c], margin: 7, fontSize: 15, color: '#4d4d4d', fontFamily: FONT,
        formatter: (v) => { const k = xTickValues[c].findIndex(t => Math.abs(t - v) < 1e-6); return k >= 0 ? xTickLabels[c][k] : ''; } },
      splitLine: { show: false }
    });
    yAxes.push({
      gridIndex: gi, type: 'value', min: yRange[0], max: yRange[1],
      axisLine: { show: isLeft, onZero: false, lineStyle: { color: '#000', width: 1.8 } },
      axisTick: { show: isLeft, length: 4.5, customValues: yTickValues, lineStyle: { color: '#333', width: 1 } },
      axisLabel: { show: isLeft, customValues: yTickValues, margin: 6, fontSize: 15, color: '#4d4d4d', fontFamily: FONT,
        formatter: (v) => { const k = yTickValues.findIndex(t => Math.abs(t - v) < 1e-6); return k >= 0 ? yTickLabels[k] : ''; } },
      splitLine: { show: false }
    });
    for (let k = 0; k < 3; k++) {
      const s = {
        name: categories[k], type: 'scatter', xAxisIndex: gi, yAxisIndex: gi,
        data: pairs(panels[r][c][k]), symbol: 'circle', symbolSize: 9,
        itemStyle: { color: rgba(baseColors[k], fillA), borderColor: rgba(baseColors[k], strokeA), borderWidth: 1 },
        emphasis: { disabled: true }, z: 2
      };
      if (k === 2) {
        s.markLine = { silent: true, symbol: ['none', 'none'], label: { show: false }, z: 10,
          lineStyle: { color: '#999999', type: [5, 4], width: 1.3 },
          data: [{ xAxis: Math.log(thresholdsRaw[c]) }] };
      }
      series.push(s);
    }
    if (r === 0) {
      graphics.push({ type: 'rect', shape: { x: colLeft[c], y: 3, width: colW[c], height: 30 }, style: { fill: '#d9d9d9', stroke: '#333333', lineWidth: 1 }, z: 100 });
      graphics.push({ type: 'text', x: colLeft[c] + colW[c] / 2, y: 18, style: { text: measures[c], fill: '#1a1a1a', font: '15.5px ' + FONT, align: 'center', verticalAlign: 'middle', textAlign: 'center', textVerticalAlign: 'middle' }, z: 101 });
    }
  }
  const top = rowTop0 + r * rowStep;
  graphics.push({ type: 'rect', shape: { x: 665, y: top, width: 32, height: rowH }, style: { fill: '#d9d9d9', stroke: '#333333', lineWidth: 1 }, z: 100 });
  graphics.push({ type: 'text', x: 681, y: top + rowH / 2, rotation: -Math.PI / 2, style: { text: periods[r], fill: '#1a1a1a', font: '15.5px ' + FONT, align: 'center', verticalAlign: 'middle', textAlign: 'center', textVerticalAlign: 'middle' }, z: 101 });
}
graphics.push({ type: 'text', x: 17, y: (rowTop0 + rowTop0 + 5 * rowStep + rowH) / 2, rotation: Math.PI / 2,
  style: { text: '3-week lagged mortality per 100K (log scale)', fill: '#000', font: '19px ' + FONT, align: 'center', verticalAlign: 'middle', textAlign: 'center', textVerticalAlign: 'middle' }, z: 101 });

const legends = categories.map((n, k) => ({
  data: [{ name: n, icon: 'circle', itemStyle: { color: rgba(baseColors[k], fillA), borderColor: rgba(baseColors[k], strokeA), borderWidth: 1 } }],
  left: legendLeft[k], top: 984, padding: 0, itemWidth: 42, itemHeight: 10, selectedMode: false,
  textStyle: { fontSize: 15.5, color: '#1a1a1a', fontFamily: FONT }
}));

const chart = echarts.init(document.getElementById('c'), null, { renderer: 'canvas' });
chart.setOption({
  animation: false,
  backgroundColor: '#ffffff',
  grid: grids, xAxis: xAxes, yAxis: yAxes, series: series,
  legend: legends,
  graphic: { elements: graphics }
});
</script>
</body></html>
